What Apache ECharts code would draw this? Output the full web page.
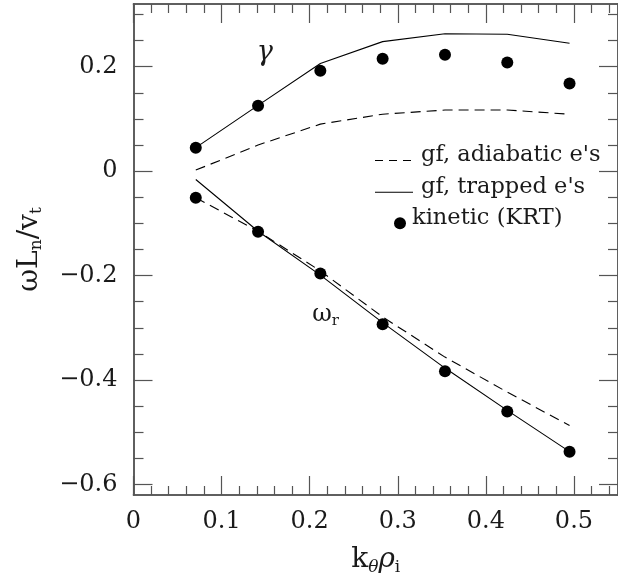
<!DOCTYPE html>
<html>
<head>
<meta charset="utf-8">
<script src="https://cdn.jsdelivr.net/npm/echarts@6/dist/echarts.min.js"></script>
<style>
  html, body { margin: 0; padding: 0; background: #fff; }
  #chart { width: 618px; height: 581px; }
</style>
</head>
<body>
<div id="chart"></div>
<script>
// Wavenumber k_theta * rho_i of each computed mode
const kx = [0.0707, 0.1414, 0.2121, 0.2828, 0.3536, 0.4243, 0.4950];

// Growth rate gamma
const gammaAdiabatic = [0.002, 0.050, 0.090, 0.109, 0.117, 0.117, 0.109];
const gammaTrapped   = [0.045, 0.126, 0.206, 0.248, 0.263, 0.262, 0.245];
const gammaKinetic   = [0.045, 0.125, 0.192, 0.215, 0.223, 0.208, 0.168];

// Real frequency omega_r
const omegaAdiabatic = [-0.051, -0.115, -0.191, -0.279, -0.356, -0.423, -0.487];
const omegaTrapped   = [-0.016, -0.115, -0.199, -0.290, -0.377, -0.458, -0.537];
const omegaKinetic   = [-0.051, -0.116, -0.196, -0.293, -0.383, -0.460, -0.537];

// Tick marks and labels
const xMajor = [0, 0.1, 0.2, 0.3, 0.4, 0.5];
const xMinor = [0.02, 0.04, 0.06, 0.08, 0.12, 0.14, 0.16, 0.18, 0.22, 0.24, 0.26, 0.28,
                0.32, 0.34, 0.36, 0.38, 0.42, 0.44, 0.46, 0.48, 0.52, 0.54];
const yMajor = [-0.6, -0.4, -0.2, 0, 0.2];
const yMinor = [-0.55, -0.5, -0.45, -0.35, -0.3, -0.25, -0.15, -0.1, -0.05,
                0.05, 0.1, 0.15, 0.25, 0.3];

const legendNames = ["gf, adiabatic e's", "gf, trapped e's", "kinetic (KRT)"];

const SERIF = "'DejaVu Serif', serif";
const AXIS_COLOR = '#555';
const TEXT_COLOR = '#1a1a1a';

const pairs = (xs, ys) => xs.map((x, i) => [x, ys[i]]);
const fmt = v => (v < 0 ? '\u2212' : '') + String(Math.abs(v));

const richTitle = {
  m:  { fontFamily: SERIF, fontSize: 28, lineHeight: 32, color: TEXT_COLOR },
  mi: { fontFamily: SERIF, fontSize: 28, lineHeight: 32, fontStyle: 'italic', color: TEXT_COLOR },
  s:  { fontFamily: SERIF, fontSize: 17, lineHeight: 13, verticalAlign: 'bottom', color: TEXT_COLOR },
  si: { fontFamily: SERIF, fontSize: 17, lineHeight: 13, verticalAlign: 'bottom', fontStyle: 'italic', color: TEXT_COLOR }
};

function makeAxis(kind, position, ticks, len, withLabels, extra) {
  const ax = {
    type: 'value',
    position: position,
    min: kind === 'x' ? 0 : -0.62,
    max: kind === 'x' ? 0.55 : 0.32,
    axisLine: { show: true, onZero: false, lineStyle: { color: AXIS_COLOR, width: 1.5 } },
    axisTick: { show: true, inside: true, length: len, customValues: ticks,
                lineStyle: { color: AXIS_COLOR, width: 1.2 } },
    axisLabel: withLabels ? {
      customValues: ticks,
      formatter: fmt,
      fontFamily: SERIF,
      fontSize: 24,
      color: TEXT_COLOR,
      margin: kind === 'x' ? 15 : 16
    } : { show: false },
    splitLine: { show: false },
    minorTick: { show: false },
    minorSplitLine: { show: false }
  };
  return Object.assign(ax, extra || {});
}

const chart = echarts.init(document.getElementById('chart'), null, { renderer: 'canvas' });

const lineBase = { type: 'line', showSymbol: false, symbol: 'none', silent: true,
                   xAxisIndex: 0, yAxisIndex: 0 };
const dotBase = { type: 'scatter', silent: true, symbol: 'circle', symbolSize: 12,
                  itemStyle: { color: '#000', opacity: 1 } };

chart.setOption({
  animation: false,
  backgroundColor: '#fff',
  grid: { left: 133.5, right: -8.5, top: 4, bottom: 86 },
  xAxis: [
    makeAxis('x', 'bottom', xMajor, 19, true, {
      name: '{m|k}{si|\u03b8}{mi|\u03c1}{s|i}',
      nameLocation: 'middle',
      nameGap: 49,
      nameTextStyle: { rich: richTitle }
    }),
    makeAxis('x', 'bottom', xMinor, 9, false),
    makeAxis('x', 'top', xMajor, 19, false),
    makeAxis('x', 'top', xMinor, 9, false)
  ],
  yAxis: [
    makeAxis('y', 'left', yMajor, 19, true, {
      name: '{m|\u03c9L}{s|n}{m|/v}{s|t}',
      nameLocation: 'middle',
      nameRotate: 90,
      nameGap: 88,
      nameTextStyle: { rich: richTitle }
    }),
    makeAxis('y', 'left', yMinor, 10, false),
    makeAxis('y', 'right', yMajor, 19, false),
    makeAxis('y', 'right', yMinor, 10, false)
  ],
  series: [
    Object.assign({}, lineBase, { name: legendNames[0], data: pairs(kx, gammaAdiabatic),
      lineStyle: { color: '#000', width: 1.1, type: [10, 6] } }),
    Object.assign({}, lineBase, { name: legendNames[0], data: pairs(kx, omegaAdiabatic),
      lineStyle: { color: '#000', width: 1.1, type: [10, 6] } }),
    Object.assign({}, lineBase, { name: legendNames[1], data: pairs(kx, gammaTrapped),
      lineStyle: { color: '#000', width: 1.1 } }),
    Object.assign({}, lineBase, { name: legendNames[1], data: pairs(kx, omegaTrapped),
      lineStyle: { color: '#000', width: 1.1 } }),
    Object.assign({}, dotBase, { name: legendNames[2], data: pairs(kx, gammaKinetic) }),
    Object.assign({}, dotBase, { name: legendNames[2], data: pairs(kx, omegaKinetic) }),
    // curve annotations
    { type: 'scatter', silent: true, symbolSize: 1,
      itemStyle: { color: 'rgba(0,0,0,0)' },
      data: [
        { value: [0.149, 0.226], label: { formatter: '{g|\u03b3}' } },
        { value: [0.218, -0.2755], label: { formatter: '{w|\u03c9}{r|r}' } }
      ],
      label: {
        show: true, position: 'inside', opacity: 1,
        rich: {
          g: { fontFamily: SERIF, fontStyle: 'italic', fontSize: 27, lineHeight: 30, color: TEXT_COLOR },
          w: { fontFamily: SERIF, fontSize: 24, lineHeight: 28, color: TEXT_COLOR },
          r: { fontFamily: SERIF, fontSize: 15, lineHeight: 12, verticalAlign: 'bottom', color: TEXT_COLOR }
        }
      }
    }
  ],
  graphic: [
    { type: 'line', silent: true, shape: { x1: 375, y1: 160.5, x2: 413, y2: 160.5 },
      style: { stroke: '#000', lineWidth: 1.1, lineDash: [8, 6] } },
    { type: 'text', silent: true, x: 421, y: 155.5,
      style: { text: legendNames[0], fontFamily: 'DejaVu Serif', fontSize: 22.5, fill: TEXT_COLOR,
               align: 'left', verticalAlign: 'middle' } },
    { type: 'line', silent: true, shape: { x1: 375, y1: 192.3, x2: 413, y2: 192.3 },
      style: { stroke: '#000', lineWidth: 1.1 } },
    { type: 'text', silent: true, x: 421, y: 187,
      style: { text: legendNames[1], fontFamily: 'DejaVu Serif', fontSize: 22.5, fill: TEXT_COLOR,
               align: 'left', verticalAlign: 'middle' } },
    { type: 'circle', silent: true, shape: { cx: 400, cy: 223.3, r: 6 },
      style: { fill: '#000' } },
    { type: 'text', silent: true, x: 412, y: 218.5,
      style: { text: legendNames[2], fontFamily: 'DejaVu Serif', fontSize: 22.5, fill: TEXT_COLOR,
               align: 'left', verticalAlign: 'middle' } }
  ]
});
</script>
</body>
</html>
